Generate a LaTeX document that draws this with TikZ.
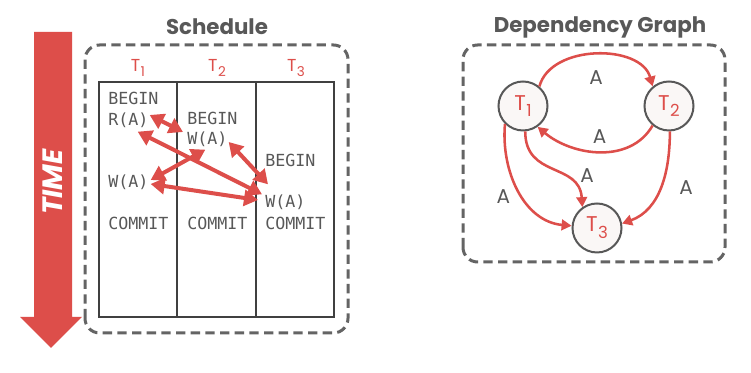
\documentclass[tikz,border=0pt]{standalone}
\usepackage{fontspec}
\setmainfont{Poppins}
\setmonofont{DejaVu Sans Mono}
\usepackage{xcolor}
\usepackage{tikz}
\usetikzlibrary{calc,arrows.meta,positioning}
\definecolor{tmRed}{RGB}{221,78,74}
\definecolor{tmGray}{RGB}{88,88,88}
\definecolor{tmDash}{RGB}{100,100,100}
\definecolor{tmFill}{RGB}{250,247,246}
\newcommand{\txn}[1]{T\kern0.3pt\raisebox{-0.32em}{\scalebox{0.78}{#1}}}

\begin{document}
\begin{tikzpicture}[x=0.75pt,y=0.75pt,
  title/.style={font=\fontsize{16}{19}\selectfont\bfseries, text=tmGray},
  panel/.style={draw=tmDash, line width=2.25pt, dash pattern=on 7pt off 4pt, rounded corners=11pt},
  op/.style={font=\ttfamily\fontsize{12.5}{15}\selectfont, text=tmGray, anchor=west, inner sep=0pt},
  txhead/.style={font=\fontsize{13}{15}\selectfont, text=tmRed},
  conflict/.style={draw=tmRed, line width=3pt, {Triangle[length=10.5pt,width=12pt]}-{Triangle[length=10.5pt,width=12pt]}},
  txnode/.style={circle, draw=tmGray, line width=1.5pt, fill=tmFill, minimum size=36.75pt, inner sep=0pt, text=tmRed, font=\fontsize{16}{19}\selectfont},
  depedge/.style={draw=tmRed, line width=1.9pt, -{Triangle[length=7.5pt,width=8pt]}},
  edgelbl/.style={text=tmGray, font=\fontsize{15}{18}\selectfont}]
\fill[white] (0,0) rectangle (751,373);
\useasboundingbox (0,0) rectangle (751,373);

% time arrow
\fill[tmRed] (34,341) -- (72,341) -- (72,56) -- (82,56) -- (51,25) -- (20,56) -- (34,56) -- cycle;
\node[rotate=90, text=white, font=\fontsize{21}{24}\selectfont\bfseries\itshape] (time) at (53,191) {TIME};

% schedule
\node[title] (schedtitle) at (217,346) {Schedule};
\draw[panel] (85,40) rectangle (348,328);
\draw[line width=0.8pt, black!75] (99,56) rectangle (334,291);
\foreach \x in {177,256}
  \draw[line width=0.8pt, black!75] (\x,56) -- (\x,291);
\foreach \i/\x in {1/138,2/217,3/296}
  \node[txhead] (h\i) at (\x,305) {\txn{\i}};

\node[op] (b1) at (108,275) {BEGIN};
\node[op] (r1) at (108,253) {R(A)};
\node[op] (b2) at (187,255) {BEGIN};
\node[op] (w2) at (187,234) {W(A)};
\node[op] (b3) at (265,213) {BEGIN};
\node[op] (w1) at (108,191) {W(A)};
\node[op] (w3) at (265,171) {W(A)};
\foreach \i/\x in {1/108,2/187,3/265}
  \node[op] (c\i) at (\x,150) {COMMIT};

\draw[conflict] ($(r1.east)+(1,5)$) -- ($(w2.west)+(-4,7)$);
\draw[conflict] ($(w2.south)+(-2,-3)$) -- ($(w1.east)+(2,2)$);
\draw[conflict] ($(r1.south east)+(-11,-4)$) -- ($(w3.north west)+(-3,0)$);
\draw[conflict] ($(w2.east)+(1,-3)$) -- ($(w3.north west)+(3,10)$);
\draw[conflict] ($(w1.east)+(2,-2)$) -- ($(w3.west)+(-7,2)$);

% dependency graph
\node[title] (graphtitle) at (600,346) {Dependency Graph};
\draw[panel] (463,111) rectangle (725,328);
\node[txnode] (t1) at (523,267) {\txn{1}};
\node[txnode] (t2) at (669,267) {\txn{2}};
\node[txnode] (t3) at (597,145) {\txn{3}};

\draw[depedge] (t1.50) to[out=75,in=105] node[edgelbl, below=8pt] {A} (t2.130);
\draw[depedge] (t2.230) to[out=240,in=-40] node[edgelbl, above=2pt] {A} (t1.305);
\draw[depedge] (t1.225) to[out=-95,in=175] node[edgelbl, pos=0.55, left=5pt] {A} (t3.175);
\draw[depedge] (t1.-85) .. controls +(0,-47) and +(-3,45) .. node[edgelbl, pos=0.62, right=9pt] {A} (t3.125);
\draw[depedge] (t2.-88) to[out=-90,in=20] node[edgelbl, right=10pt] {A} (t3.10);
\end{tikzpicture}
\end{document}
